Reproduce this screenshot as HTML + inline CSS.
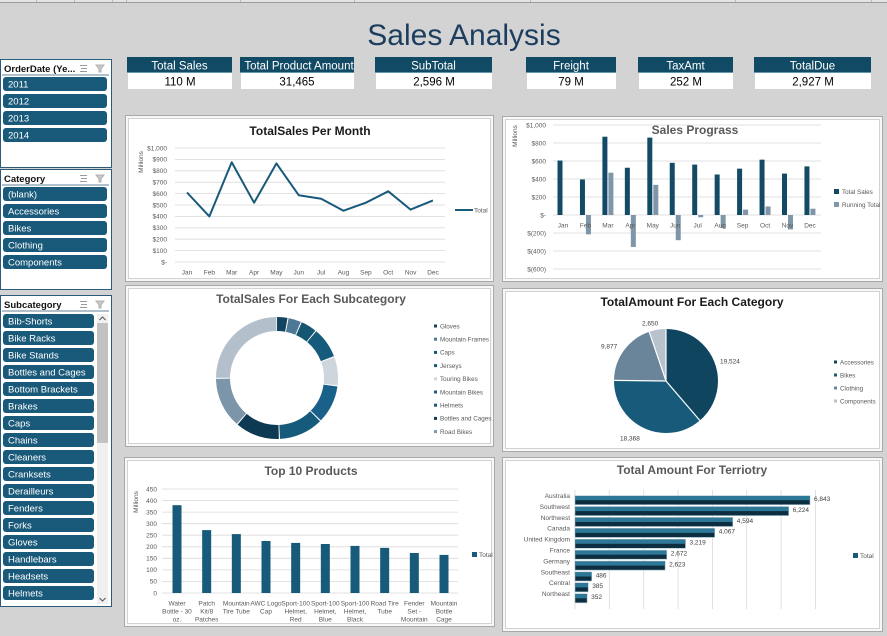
<!DOCTYPE html>
<html><head><meta charset="utf-8"><style>
html,body{margin:0;padding:0;background:#d3d3d3;}
svg{display:block;font-family:"Liberation Sans",sans-serif;}
</style></head><body>
<svg width="887" height="636" viewBox="0 0 887 636" xmlns="http://www.w3.org/2000/svg">
<rect x="0" y="0" width="887" height="636" fill="#d3d3d3"/>
<rect x="0" y="0" width="887" height="2" fill="#e4e4e4"/>
<line x1="0" y1="2.5" x2="887" y2="2.5" stroke="#9c9c9c"/>
<g stroke="#b8b8b8" stroke-width="1"><line x1="36.5" y1="0" x2="36.5" y2="2"/><line x1="74.5" y1="0" x2="74.5" y2="2"/><line x1="112.5" y1="0" x2="112.5" y2="2"/><line x1="126.5" y1="0" x2="126.5" y2="2"/><line x1="240.5" y1="0" x2="240.5" y2="2"/><line x1="354.5" y1="0" x2="354.5" y2="2"/><line x1="530.5" y1="0" x2="530.5" y2="2"/><line x1="735.5" y1="0" x2="735.5" y2="2"/><line x1="871.5" y1="0" x2="871.5" y2="2"/></g>

<!-- Title -->
<text x="464" y="45" text-anchor="middle" font-size="30" fill="#1d3d5f">Sales Analysis</text>

<!-- KPI cards -->
<g font-size="11.5" text-anchor="middle">
<rect x="127" y="57" width="105" height="16" fill="#114a64"/><rect x="128" y="73" width="104" height="16" fill="#fff"/><line x1="127" y1="72.5" x2="232" y2="72.5" stroke="#7fb0c8" stroke-width="0.8"/>
<text x="179.5" y="69.5" fill="#fff">Total Sales</text><text x="180" y="85.5" fill="#000">110 M</text>
<rect x="240" y="57" width="114" height="16" fill="#114a64"/><rect x="241" y="73" width="113" height="16" fill="#fff"/><line x1="240" y1="72.5" x2="354" y2="72.5" stroke="#7fb0c8" stroke-width="0.8"/>
<text x="299" y="69.5" fill="#fff">Total Product Amount</text><text x="297" y="85.5" fill="#000">31,465</text>
<rect x="375" y="57" width="117" height="16" fill="#114a64"/><rect x="376" y="73" width="116" height="16" fill="#fff"/><line x1="375" y1="72.5" x2="492" y2="72.5" stroke="#7fb0c8" stroke-width="0.8"/>
<text x="433.5" y="69.5" fill="#fff">SubTotal</text><text x="434" y="85.5" fill="#000">2,596 M</text>
<rect x="526" y="57" width="90" height="16" fill="#114a64"/><rect x="527" y="73" width="89" height="16" fill="#fff"/><line x1="526" y1="72.5" x2="616" y2="72.5" stroke="#7fb0c8" stroke-width="0.8"/>
<text x="571" y="69.5" fill="#fff">Freight</text><text x="571" y="85.5" fill="#000">79 M</text>
<rect x="638" y="57" width="95" height="16" fill="#114a64"/><rect x="639" y="73" width="94" height="16" fill="#fff"/><line x1="638" y1="72.5" x2="733" y2="72.5" stroke="#7fb0c8" stroke-width="0.8"/>
<text x="685.5" y="69.5" fill="#fff">TaxAmt</text><text x="686" y="85.5" fill="#000">252 M</text>
<rect x="754" y="57" width="117" height="16" fill="#114a64"/><rect x="755" y="73" width="116" height="16" fill="#fff"/><line x1="754" y1="72.5" x2="871" y2="72.5" stroke="#7fb0c8" stroke-width="0.8"/>
<text x="812.5" y="69.5" fill="#fff">TotalDue</text><text x="813" y="85.5" fill="#000">2,927 M</text>
</g>

<!-- Slicers -->
<g>
<!-- OrderDate -->
<rect x="0.5" y="59.5" width="111" height="108" fill="#fff" stroke="#2b5a7a"/>
<text x="4" y="72" font-size="9.5" font-weight="bold" fill="#111">OrderDate (Ye...</text>
<g stroke="#9a9a9a" stroke-width="1"><line x1="80" y1="65.5" x2="87" y2="65.5"/><line x1="81" y1="68.5" x2="87" y2="68.5"/><line x1="80" y1="71.5" x2="87" y2="71.5"/><path d="M96 65 L104 65 L101 69 L101 72 L99 72 L99 69 Z" fill="#c8c8c8" stroke="#b0b0b0"/></g>
<line x1="2" y1="75" x2="109" y2="75" stroke="#2b5a7a" stroke-width="0.8"/>
<g font-size="9.5" fill="#fff">
<rect x="3" y="77" width="104" height="14" rx="3" fill="#19597a"/><text x="8" y="87.5">2011</text>
<rect x="3" y="94" width="104" height="14" rx="3" fill="#19597a"/><text x="8" y="104.5">2012</text>
<rect x="3" y="111" width="104" height="14" rx="3" fill="#19597a"/><text x="8" y="121.5">2013</text>
<rect x="3" y="128" width="104" height="14" rx="3" fill="#19597a"/><text x="8" y="138.5">2014</text>
</g>
<!-- Category -->
<rect x="0.5" y="169.5" width="111" height="120" fill="#fff" stroke="#2b5a7a"/>
<text x="4" y="182" font-size="9.5" font-weight="bold" fill="#111">Category</text>
<g stroke="#9a9a9a" stroke-width="1"><line x1="80" y1="175.5" x2="87" y2="175.5"/><line x1="81" y1="178.5" x2="87" y2="178.5"/><line x1="80" y1="181.5" x2="87" y2="181.5"/><path d="M96 175 L104 175 L101 179 L101 182 L99 182 L99 179 Z" fill="#c8c8c8" stroke="#b0b0b0"/></g>
<line x1="2" y1="185" x2="109" y2="185" stroke="#2b5a7a" stroke-width="0.8"/>
<g font-size="9.5" fill="#fff">
<rect x="3" y="187" width="104" height="14" rx="3" fill="#19597a"/><text x="8" y="197.5">(blank)</text>
<rect x="3" y="204" width="104" height="14" rx="3" fill="#19597a"/><text x="8" y="214.5">Accessories</text>
<rect x="3" y="221" width="104" height="14" rx="3" fill="#19597a"/><text x="8" y="231.5">Bikes</text>
<rect x="3" y="238" width="104" height="14" rx="3" fill="#19597a"/><text x="8" y="248.5">Clothing</text>
<rect x="3" y="255" width="104" height="14" rx="3" fill="#19597a"/><text x="8" y="265.5">Components</text>
</g>
<!-- Subcategory -->
<rect x="0.5" y="295.5" width="111" height="311" fill="#fff" stroke="#2b5a7a"/>
<text x="4" y="308" font-size="9.5" font-weight="bold" fill="#111">Subcategory</text>
<g stroke="#9a9a9a" stroke-width="1"><line x1="80" y1="301.5" x2="87" y2="301.5"/><line x1="81" y1="304.5" x2="87" y2="304.5"/><line x1="80" y1="307.5" x2="87" y2="307.5"/><path d="M96 301 L104 301 L101 305 L101 308 L99 308 L99 305 Z" fill="#c8c8c8" stroke="#b0b0b0"/></g>
<line x1="2" y1="311" x2="109" y2="311" stroke="#2b5a7a" stroke-width="0.8"/>
<rect x="97" y="314" width="11" height="290" fill="#f0f0f0"/>
<rect x="97" y="323" width="11" height="120" fill="#c2c2c2"/>
<path d="M99.5 320 L102.5 317 L105.5 320" fill="none" stroke="#555" stroke-width="1"/>
<path d="M99.5 598 L102.5 601 L105.5 598" fill="none" stroke="#555" stroke-width="1"/>
<g font-size="9.5" fill="#fff">
<rect x="3" y="314" width="91" height="14" rx="3" fill="#19597a"/><text x="8" y="324.5">Bib-Shorts</text>
<rect x="3" y="331" width="91" height="14" rx="3" fill="#19597a"/><text x="8" y="341.5">Bike Racks</text>
<rect x="3" y="348" width="91" height="14" rx="3" fill="#19597a"/><text x="8" y="358.5">Bike Stands</text>
<rect x="3" y="365" width="91" height="14" rx="3" fill="#19597a"/><text x="8" y="375.5">Bottles and Cages</text>
<rect x="3" y="382" width="91" height="14" rx="3" fill="#19597a"/><text x="8" y="392.5">Bottom Brackets</text>
<rect x="3" y="399" width="91" height="14" rx="3" fill="#19597a"/><text x="8" y="409.5">Brakes</text>
<rect x="3" y="416" width="91" height="14" rx="3" fill="#19597a"/><text x="8" y="426.5">Caps</text>
<rect x="3" y="433" width="91" height="14" rx="3" fill="#19597a"/><text x="8" y="443.5">Chains</text>
<rect x="3" y="450" width="91" height="14" rx="3" fill="#19597a"/><text x="8" y="460.5">Cleaners</text>
<rect x="3" y="467" width="91" height="14" rx="3" fill="#19597a"/><text x="8" y="477.5">Cranksets</text>
<rect x="3" y="484" width="91" height="14" rx="3" fill="#19597a"/><text x="8" y="494.5">Derailleurs</text>
<rect x="3" y="501" width="91" height="14" rx="3" fill="#19597a"/><text x="8" y="511.5">Fenders</text>
<rect x="3" y="518" width="91" height="14" rx="3" fill="#19597a"/><text x="8" y="528.5">Forks</text>
<rect x="3" y="535" width="91" height="14" rx="3" fill="#19597a"/><text x="8" y="545.5">Gloves</text>
<rect x="3" y="552" width="91" height="14" rx="3" fill="#19597a"/><text x="8" y="562.5">Handlebars</text>
<rect x="3" y="569" width="91" height="14" rx="3" fill="#19597a"/><text x="8" y="579.5">Headsets</text>
<rect x="3" y="586" width="91" height="14" rx="3" fill="#19597a"/><text x="8" y="596.5">Helmets</text>
</g>
</g>

<!-- Panels -->
<g>
<rect x="125.5" y="115.5" width="368" height="166" fill="#f7f7f7" stroke="#a9a9a9"/><rect x="128.5" y="118.5" width="362" height="160" fill="#fff" stroke="#d2d2d2"/>
<rect x="502.5" y="116.5" width="380" height="165" fill="#f7f7f7" stroke="#a9a9a9"/><rect x="505.5" y="119.5" width="374" height="159" fill="#fff" stroke="#d2d2d2"/>
<rect x="125.5" y="285.5" width="368" height="161" fill="#f7f7f7" stroke="#a9a9a9"/><rect x="128.5" y="288.5" width="362" height="155" fill="#fff" stroke="#d2d2d2"/>
<rect x="502.5" y="288.5" width="380" height="163" fill="#f7f7f7" stroke="#a9a9a9"/><rect x="505.5" y="291.5" width="374" height="157" fill="#fff" stroke="#d2d2d2"/>
<rect x="124.5" y="457.5" width="370" height="169" fill="#f7f7f7" stroke="#a9a9a9"/><rect x="127.5" y="460.5" width="364" height="163" fill="#fff" stroke="#d2d2d2"/>
<rect x="502.5" y="457.5" width="380" height="174" fill="#f7f7f7" stroke="#a9a9a9"/><rect x="505.5" y="460.5" width="374" height="168" fill="#fff" stroke="#d2d2d2"/>
</g>

<!-- Chart 1: TotalSales Per Month -->
<g>
<text x="310" y="135" text-anchor="middle" font-size="12" font-weight="bold" fill="#1a1a1a">TotalSales Per Month</text>
<g stroke="#d9d9d9" stroke-width="0.8">
<line x1="175" y1="148" x2="445" y2="148"/><line x1="175" y1="159.4" x2="445" y2="159.4"/><line x1="175" y1="170.8" x2="445" y2="170.8"/><line x1="175" y1="182.2" x2="445" y2="182.2"/><line x1="175" y1="193.6" x2="445" y2="193.6"/><line x1="175" y1="205" x2="445" y2="205"/><line x1="175" y1="216.4" x2="445" y2="216.4"/><line x1="175" y1="227.8" x2="445" y2="227.8"/><line x1="175" y1="239.2" x2="445" y2="239.2"/><line x1="175" y1="250.6" x2="445" y2="250.6"/><line x1="175" y1="262" x2="445" y2="262"/>
</g>
<g font-size="6.5" fill="#595959" text-anchor="end">
<text x="167" y="150.3">$1,000</text><text x="167" y="161.7">$900</text><text x="167" y="173.1">$800</text><text x="167" y="184.5">$700</text><text x="167" y="195.9">$600</text><text x="167" y="207.3">$500</text><text x="167" y="218.7">$400</text><text x="167" y="230.1">$300</text><text x="167" y="241.5">$200</text><text x="167" y="252.9">$100</text><text x="167" y="264.3">$-</text>
</g>
<text transform="translate(143,162) rotate(-90)" text-anchor="middle" font-size="6.5" fill="#595959">Millions</text>
<g font-size="6.5" fill="#595959" text-anchor="middle">
<text x="187" y="274.5">Jan</text><text x="209.4" y="274.5">Feb</text><text x="231.7" y="274.5">Mar</text><text x="254.1" y="274.5">Apr</text><text x="276.4" y="274.5">May</text><text x="298.8" y="274.5">Jun</text><text x="321.2" y="274.5">Jul</text><text x="343.5" y="274.5">Aug</text><text x="365.9" y="274.5">Sep</text><text x="388.2" y="274.5">Oct</text><text x="410.6" y="274.5">Nov</text><text x="433" y="274.5">Dec</text>
</g>
<polyline fill="none" stroke="#19597a" stroke-width="2" stroke-linejoin="round" points="187,192.5 209.36,216.4 231.72,162.25 254.08,202.7 276.44,163.4 298.8,195.3 321.16,198.7 343.52,210.7 365.88,202.7 388.24,191.3 410.6,209.6 432.96,200.4"/>
<line x1="455" y1="210" x2="473" y2="210" stroke="#19597a" stroke-width="2"/>
<text x="474" y="212.3" font-size="6.5" fill="#595959">Total</text>
</g>

<!-- Chart 2: Sales Prograss -->
<g>
<g stroke="#d9d9d9" stroke-width="0.8">
<line x1="553" y1="125" x2="821" y2="125"/><line x1="553" y1="143" x2="821" y2="143"/><line x1="553" y1="161" x2="821" y2="161"/><line x1="553" y1="179" x2="821" y2="179"/><line x1="553" y1="197" x2="821" y2="197"/><line x1="553" y1="215" x2="821" y2="215"/><line x1="553" y1="233" x2="821" y2="233"/><line x1="553" y1="251" x2="821" y2="251"/><line x1="553" y1="269" x2="821" y2="269"/>
</g>
<text x="695" y="134" text-anchor="middle" font-size="12" font-weight="bold" fill="#595959">Sales Prograss</text>
<g font-size="6.5" fill="#595959" text-anchor="end">
<text x="546" y="127.3">$1,000</text><text x="546" y="145.3">$800</text><text x="546" y="163.3">$600</text><text x="546" y="181.3">$400</text><text x="546" y="199.3">$200</text><text x="546" y="217.3">$-</text><text x="546" y="235.3">$(200)</text><text x="546" y="253.3">$(400)</text><text x="546" y="271.3">$(600)</text>
</g>
<text transform="translate(517,136) rotate(-90)" text-anchor="middle" font-size="6.5" fill="#595959">Millions</text>
<g fill="#134b66">
<rect x="557.5" y="160.55" width="5" height="54.45"/><rect x="579.95" y="179.45" width="5" height="35.55"/><rect x="602.4" y="136.7" width="5" height="78.3"/><rect x="624.85" y="167.75" width="5" height="47.25"/><rect x="647.3" y="137.6" width="5" height="77.4"/><rect x="669.75" y="162.8" width="5" height="52.2"/><rect x="692.2" y="164.6" width="5" height="50.4"/><rect x="714.65" y="174.5" width="5" height="40.5"/><rect x="737.1" y="168.65" width="5" height="46.35"/><rect x="759.55" y="159.65" width="5" height="55.35"/><rect x="782" y="173.6" width="5" height="41.4"/><rect x="804.45" y="166.4" width="5" height="48.6"/>
</g>
<g fill="#7f96a8">
<rect x="585.95" y="215" width="5" height="19.35"/><rect x="608.4" y="172.7" width="5" height="42.3"/><rect x="630.85" y="215" width="5" height="31.95"/><rect x="653.3" y="184.85" width="5" height="30.15"/><rect x="675.75" y="215" width="5" height="25.2"/><rect x="698.2" y="215" width="5" height="2.25"/><rect x="720.65" y="215" width="5" height="13.05"/><rect x="743.1" y="209.6" width="5" height="5.4"/><rect x="765.55" y="206.45" width="5" height="8.55"/><rect x="788" y="215" width="5" height="14.4"/><rect x="810.45" y="208.7" width="5" height="6.3"/>
</g>
<g font-size="6.5" fill="#595959" text-anchor="middle">
<text x="563" y="227.5">Jan</text><text x="585.5" y="227.5">Feb</text><text x="607.9" y="227.5">Mar</text><text x="630.4" y="227.5">Apr</text><text x="652.8" y="227.5">May</text><text x="675.3" y="227.5">Jun</text><text x="697.7" y="227.5">Jul</text><text x="720.2" y="227.5">Aug</text><text x="742.6" y="227.5">Sep</text><text x="765.1" y="227.5">Oct</text><text x="787.5" y="227.5">Nov</text><text x="810" y="227.5">Dec</text>
</g>
<rect x="834" y="189" width="5" height="5" fill="#134b66"/><text x="842" y="194" font-size="6.3" fill="#595959">Total Sales</text>
<rect x="834" y="202" width="5" height="5" fill="#7f96a8"/><text x="842" y="207" font-size="6.3" fill="#595959">Running Total</text>
</g>

<!-- Chart 3: Donut -->
<g>
<text x="311" y="303" text-anchor="middle" font-size="12" font-weight="bold" fill="#595959">TotalSales For Each Subcategory</text>
<g transform="rotate(-90 277 378)" fill="none" stroke-width="14">
<circle cx="277" cy="378" r="54" stroke="#124660" stroke-dasharray="9.37 400" stroke-dashoffset="0"/>
<circle cx="277" cy="378" r="54" stroke="#4d7896" stroke-dasharray="11.25 400" stroke-dashoffset="-10.37"/>
<circle cx="277" cy="378" r="54" stroke="#155672" stroke-dasharray="14.08 400" stroke-dashoffset="-22.62"/>
<circle cx="277" cy="378" r="54" stroke="#175b7c" stroke-dasharray="27.27 400" stroke-dashoffset="-37.70"/>
<circle cx="277" cy="378" r="54" stroke="#cdd5dd" stroke-dasharray="25.39 400" stroke-dashoffset="-65.97"/>
<circle cx="277" cy="378" r="54" stroke="#1a6189" stroke-dasharray="33.87 400" stroke-dashoffset="-92.36"/>
<circle cx="277" cy="378" r="54" stroke="#175b7c" stroke-dasharray="39.53 400" stroke-dashoffset="-127.23"/>
<circle cx="277" cy="378" r="54" stroke="#0d3a52" stroke-dasharray="39.53 400" stroke-dashoffset="-167.76"/>
<circle cx="277" cy="378" r="54" stroke="#7d95a9" stroke-dasharray="45.18 400" stroke-dashoffset="-208.29"/>
<circle cx="277" cy="378" r="54" stroke="#b3bfca" stroke-dasharray="83.82 400" stroke-dashoffset="-254.47"/>
</g>
<g font-size="6.3" fill="#595959">
<rect x="434" y="324.5" width="3" height="3" fill="#124660"/><text x="440" y="328.3">Gloves</text>
<rect x="434" y="337.7" width="3" height="3" fill="#4d7896"/><text x="440" y="341.5">Mountain Frames</text>
<rect x="434" y="350.9" width="3" height="3" fill="#155672"/><text x="440" y="354.7">Caps</text>
<rect x="434" y="364.1" width="3" height="3" fill="#175b7c"/><text x="440" y="367.9">Jerseys</text>
<rect x="434" y="377.3" width="3" height="3" fill="#cdd5dd"/><text x="440" y="381.1">Touring Bikes</text>
<rect x="434" y="390.5" width="3" height="3" fill="#1a6189"/><text x="440" y="394.3">Mountain Bikes</text>
<rect x="434" y="403.7" width="3" height="3" fill="#175b7c"/><text x="440" y="407.5">Helmets</text>
<rect x="434" y="416.9" width="3" height="3" fill="#0d3a52"/><text x="440" y="420.7">Bottles and Cages</text>
<rect x="434" y="430.1" width="3" height="3" fill="#7d95a9"/><text x="440" y="433.9">Road Bikes</text>
</g>
</g>

<!-- Chart 4: Pie -->
<g>
<text x="692" y="306" text-anchor="middle" font-size="12" font-weight="bold" fill="#1a1a1a">TotalAmount For Each Category</text>
<g transform="rotate(-90 666 381)" fill="none" stroke-width="52">
<circle cx="666" cy="381" r="26" stroke="#104560" stroke-dasharray="63.26 300" stroke-dashoffset="0"/>
<circle cx="666" cy="381" r="26" stroke="#175a7a" stroke-dasharray="59.54 300" stroke-dashoffset="-63.26"/>
<circle cx="666" cy="381" r="26" stroke="#6a8499" stroke-dasharray="31.99 300" stroke-dashoffset="-122.80"/>
<circle cx="666" cy="381" r="26" stroke="#b8c2cc" stroke-dasharray="8.58 300" stroke-dashoffset="-154.79"/>
</g>
<g stroke="#fff" stroke-width="1.2">
<line x1="666" y1="381" x2="666" y2="328"/><line x1="666" y1="381" x2="700.2" y2="420.9"/><line x1="666" y1="381" x2="613" y2="380.4"/><line x1="666" y1="381" x2="648.9" y2="330.9"/>
</g>
<g font-size="6.5" fill="#404040">
<text x="720" y="363.5">19,524</text><text x="620" y="440.5">18,368</text><text x="601" y="348.5">9,877</text><text x="642" y="325.5">2,650</text>
</g>
<g font-size="6.3" fill="#595959">
<rect x="834" y="360.5" width="3" height="3" fill="#104560"/><text x="840" y="364.3">Accessories</text>
<rect x="834" y="373.5" width="3" height="3" fill="#175a7a"/><text x="840" y="377.3">Bikes</text>
<rect x="834" y="386.5" width="3" height="3" fill="#6a8499"/><text x="840" y="390.3">Clothing</text>
<rect x="834" y="399.5" width="3" height="3" fill="#b8c2cc"/><text x="840" y="403.3">Components</text>
</g>
</g>

<!-- Chart 5: Top 10 Products -->
<g>
<text x="311" y="475" text-anchor="middle" font-size="12" font-weight="bold" fill="#595959">Top 10  Products</text>
<g stroke="#d9d9d9" stroke-width="0.8">
<line x1="162" y1="489" x2="458" y2="489"/><line x1="162" y1="500.6" x2="458" y2="500.6"/><line x1="162" y1="512.1" x2="458" y2="512.1"/><line x1="162" y1="523.7" x2="458" y2="523.7"/><line x1="162" y1="535.2" x2="458" y2="535.2"/><line x1="162" y1="546.8" x2="458" y2="546.8"/><line x1="162" y1="558.3" x2="458" y2="558.3"/><line x1="162" y1="569.9" x2="458" y2="569.9"/><line x1="162" y1="581.4" x2="458" y2="581.4"/><line x1="162" y1="593" x2="458" y2="593"/>
</g>
<g font-size="6.5" fill="#595959" text-anchor="end">
<text x="157" y="491.3">450</text><text x="157" y="502.9">400</text><text x="157" y="514.4">350</text><text x="157" y="526">300</text><text x="157" y="537.5">250</text><text x="157" y="549.1">200</text><text x="157" y="560.6">150</text><text x="157" y="572.2">100</text><text x="157" y="583.7">50</text><text x="157" y="595.3">0</text>
</g>
<text transform="translate(138,502) rotate(-90)" text-anchor="middle" font-size="6.5" fill="#595959">Millions</text>
<g fill="#175a7a">
<rect x="172.5" y="505.2" width="9" height="87.8"/><rect x="202.17" y="530.1" width="9" height="62.9"/><rect x="231.83" y="534.1" width="9" height="58.9"/><rect x="261.5" y="541" width="9" height="52"/><rect x="291.17" y="542.9" width="9" height="50.1"/><rect x="320.83" y="544" width="9" height="49"/><rect x="350.5" y="545.9" width="9" height="47.1"/><rect x="380.17" y="547.9" width="9" height="45.1"/><rect x="409.83" y="553" width="9" height="40"/><rect x="439.5" y="554.9" width="9" height="38.1"/>
</g>
<g font-size="6.5" fill="#595959" text-anchor="middle">
<text x="177" y="605.5">Water</text><text x="177" y="613.5">Bottle - 30</text><text x="177" y="621.5">oz.</text>
<text x="206.7" y="605.5">Patch</text><text x="206.7" y="613.5">Kit/8</text><text x="206.7" y="621.5">Patches</text>
<text x="236.3" y="605.5">Mountain</text><text x="236.3" y="613.5">Tire Tube</text>
<text x="266" y="605.5">AWC Logo</text><text x="266" y="613.5">Cap</text>
<text x="295.7" y="605.5">Sport-100</text><text x="295.7" y="613.5">Helmet,</text><text x="295.7" y="621.5">Red</text>
<text x="325.3" y="605.5">Sport-100</text><text x="325.3" y="613.5">Helmet,</text><text x="325.3" y="621.5">Blue</text>
<text x="355" y="605.5">Sport-100</text><text x="355" y="613.5">Helmet,</text><text x="355" y="621.5">Black</text>
<text x="384.7" y="605.5">Road Tire</text><text x="384.7" y="613.5">Tube</text>
<text x="414.3" y="605.5">Fender</text><text x="414.3" y="613.5">Set -</text><text x="414.3" y="621.5">Mountain</text>
<text x="444" y="605.5">Mountain</text><text x="444" y="613.5">Bottle</text><text x="444" y="621.5">Cage</text>
</g>
<rect x="472" y="552" width="5" height="5" fill="#175a7a"/><text x="479" y="557" font-size="6.5" fill="#595959">Total</text>
</g>

<!-- Chart 6: Territory -->
<g>
<text x="692" y="474" text-anchor="middle" font-size="12" font-weight="bold" fill="#595959">Total Amount For Terriotry</text>
<g stroke="#d9d9d9" stroke-width="0.8">
<line x1="575" y1="490" x2="575" y2="609"/><line x1="609.3" y1="490" x2="609.3" y2="609"/><line x1="643.7" y1="490" x2="643.7" y2="609"/><line x1="678" y1="490" x2="678" y2="609"/><line x1="712.4" y1="490" x2="712.4" y2="609"/><line x1="746.7" y1="490" x2="746.7" y2="609"/><line x1="781.1" y1="490" x2="781.1" y2="609"/><line x1="815.4" y1="490" x2="815.4" y2="609"/>
</g>
<g stroke="#a9c4d2" stroke-width="0.6">
<rect x="575" y="495.7" width="235" height="9" fill="#0c2e40"/><rect x="575" y="506.6" width="213.7" height="9" fill="#0c2e40"/><rect x="575" y="517.5" width="157.8" height="9" fill="#0c2e40"/><rect x="575" y="528.4" width="139.7" height="9" fill="#0c2e40"/><rect x="575" y="539.3" width="110.5" height="9" fill="#0c2e40"/><rect x="575" y="550.2" width="91.8" height="9" fill="#0c2e40"/><rect x="575" y="561.1" width="90.1" height="9" fill="#0c2e40"/><rect x="575" y="572" width="16.7" height="9" fill="#0c2e40"/><rect x="575" y="582.9" width="13.2" height="9" fill="#0c2e40"/><rect x="575" y="593.8" width="12.1" height="9" fill="#0c2e40"/>
</g>
<g fill="#2d7797">
<rect x="575.3" y="496" width="234.4" height="4.2"/><rect x="575.3" y="506.9" width="213.1" height="4.2"/><rect x="575.3" y="517.8" width="157.2" height="4.2"/><rect x="575.3" y="528.7" width="139.1" height="4.2"/><rect x="575.3" y="539.6" width="109.9" height="4.2"/><rect x="575.3" y="550.5" width="91.2" height="4.2"/><rect x="575.3" y="561.4" width="89.5" height="4.2"/><rect x="575.3" y="572.3" width="16.1" height="4.2"/><rect x="575.3" y="583.2" width="12.6" height="4.2"/><rect x="575.3" y="594.1" width="11.5" height="4.2"/>
</g>
<g font-size="6.5" fill="#595959" text-anchor="end">
<text x="570" y="498">Australia</text><text x="570" y="508.9">Southwest</text><text x="570" y="519.8">Northwest</text><text x="570" y="530.7">Canada</text><text x="570" y="541.6">United Kingdom</text><text x="570" y="552.5">France</text><text x="570" y="563.4">Germany</text><text x="570" y="574.3">Southeast</text><text x="570" y="585.2">Central</text><text x="570" y="596.1">Northeast</text>
</g>
<g font-size="6.5" fill="#404040">
<text x="814" y="501">6,843</text><text x="792.7" y="511.9">6,224</text><text x="736.8" y="522.8">4,594</text><text x="718.7" y="533.7">4,067</text><text x="689.5" y="544.6">3,219</text><text x="670.8" y="555.5">2,672</text><text x="669.1" y="566.4">2,623</text><text x="595.7" y="577.3">486</text><text x="592.2" y="588.2">385</text><text x="591.1" y="599.1">352</text>
</g>
<rect x="853" y="553" width="5" height="5" fill="#19597a"/><text x="860" y="558" font-size="6.5" fill="#595959">Total</text>
</g>
</svg>
</body></html>
